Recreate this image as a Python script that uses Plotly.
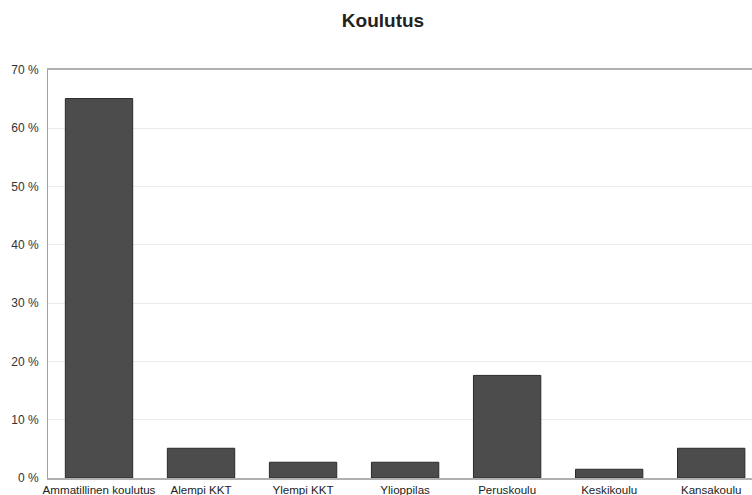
import plotly.graph_objects as go

# Education level distribution (share of respondents, %)
categories = [
    "Ammatillinen koulutus",
    "Alempi KKT",
    "Ylempi KKT",
    "Ylioppilas",
    "Peruskoulu",
    "Keskikoulu",
    "Kansakoulu",
]
shares = [65.1, 5.1, 2.7, 2.7, 17.6, 1.5, 5.1]

tick_values = [0, 10, 20, 30, 40, 50, 60, 70]
tick_labels = [f"{v} %" for v in tick_values]

fig = go.Figure(
    go.Bar(
        x=categories,
        y=shares,
        marker=dict(color="#4c4c4c", line=dict(color="#2a2a2a", width=1)),
        hoverinfo="x+y",
    )
)

fig.update_layout(
    width=752,
    height=495,
    margin=dict(l=48, r=0, t=70, b=17),
    paper_bgcolor="white",
    plot_bgcolor="white",
    bargap=0.34,
    showlegend=False,
    font=dict(family="Liberation Sans, Arial, sans-serif", color="#333333"),
    title=dict(
        text="<b>Koulutus</b>",
        x=383 / 752,
        xanchor="center",
        y=1 - 20 / 495,
        yanchor="middle",
        font=dict(size=19, color="#222222"),
    ),
)

fig.update_xaxes(
    type="category",
    range=[-0.5, 6.4],
    showline=True,
    mirror=True,
    linecolor="#b0b0b0",
    linewidth=1.5,
    showgrid=False,
    ticks="",
    tickfont=dict(size=11.6, color="#222222"),
    automargin=False,
)

fig.update_yaxes(
    range=[0, 70],
    tickvals=tick_values,
    ticktext=tick_labels,
    showline=True,
    linecolor="#a0a0a0",
    linewidth=1,
    showgrid=True,
    gridcolor="#ebebeb",
    gridwidth=1,
    zeroline=False,
    ticks="",
    ticklabelstandoff=6,
    tickfont=dict(size=12, color="#333333"),
    automargin=False,
)

fig.write_html("out.html")
